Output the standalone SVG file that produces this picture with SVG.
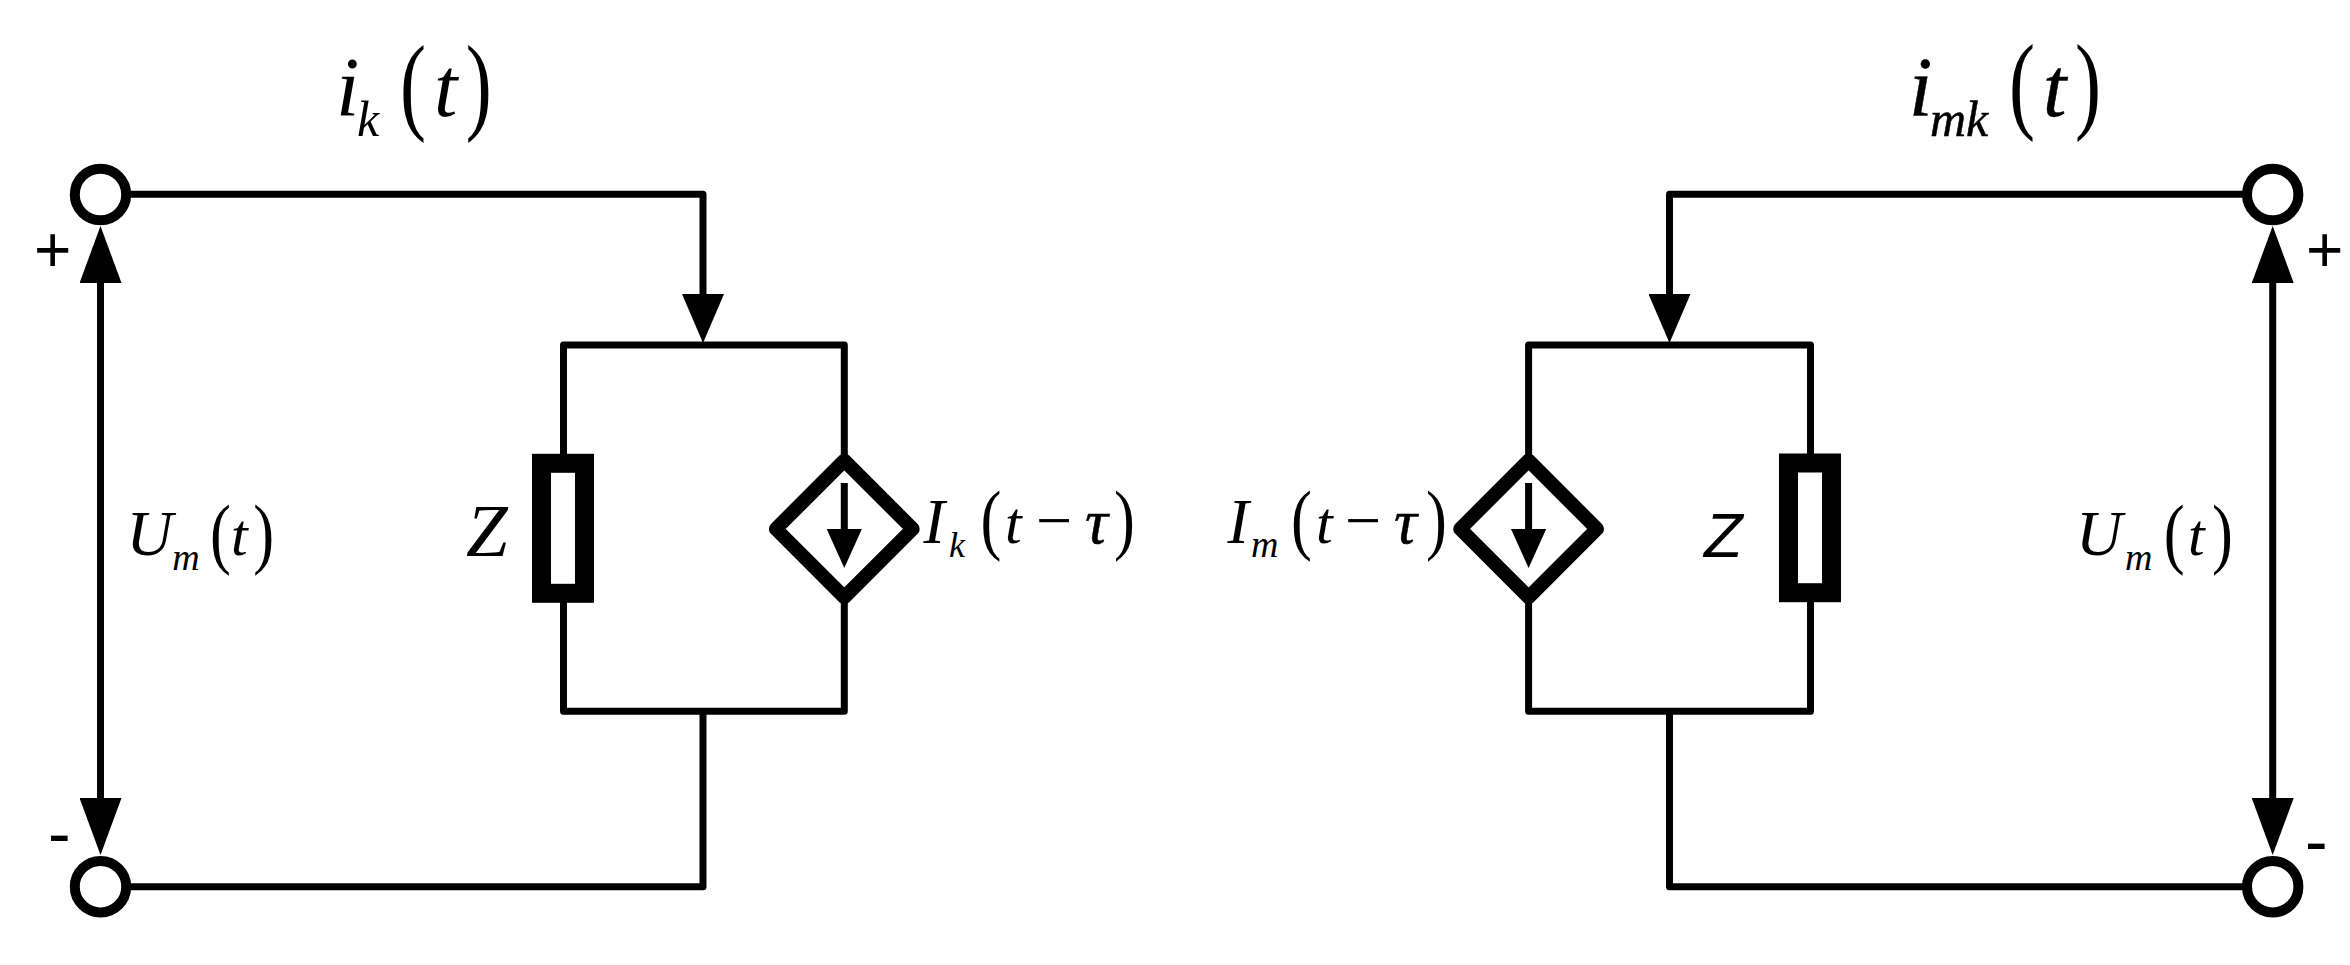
<svg xmlns="http://www.w3.org/2000/svg" width="2350" height="965" viewBox="0 0 2350 965">
<style>
.w{fill:none;stroke:#000;stroke-width:7;stroke-linejoin:round}
.term{fill:#fff;stroke:#000;stroke-width:10}
.res{fill:#fff;stroke:#000;stroke-width:19}
.dia{fill:#fff;stroke:#000;stroke-width:14;stroke-linejoin:round}
text{fill:#000;font-family:"Liberation Serif","Times New Roman",serif}
.it{font-style:italic}
.f84{font-size:84px}.f64{font-size:64px}.f60{font-size:60px}.f50{font-size:50px}.f38{font-size:38px}.f36{font-size:36px}
.f75{font-size:75px}
.pb{font-size:107.6px}.pm{font-size:77.4px}
.sans{font-family:"Liberation Sans",Arial,sans-serif}
.sign{font-size:64px}.dash{font-size:68px}
.heavy{stroke:#000;stroke-width:.5}
</style>
<defs>
<marker id="av" markerUnits="userSpaceOnUse" viewBox="0 -21 57 42" refX="0" refY="0" markerWidth="57" markerHeight="42" orient="auto-start-reverse"><path d="M0,-21L57,0L0,21z"/></marker>
<marker id="aw" markerUnits="userSpaceOnUse" viewBox="0 -21 49 42" refX="0" refY="0" markerWidth="49" markerHeight="42" orient="auto"><path d="M0,-21L49,0L0,21z"/></marker>
<marker id="as" markerUnits="userSpaceOnUse" viewBox="0 -18 39 36" refX="0" refY="0" markerWidth="39" markerHeight="36" orient="auto"><path d="M0,-17.6L39,0L0,17.6z"/></marker>
</defs>
<rect width="2350" height="965" fill="#fff"/>
<g id="connectors">
<path class="w" d="M130,194.3H703V294" marker-end="url(#aw)"/>
<path class="w" d="M563.5,345H844.3V711.3H563.5Z"/>
<path class="w" d="M703,711.3V886.7H130"/>
<path class="w" d="M2243,194.3H1669.5V294" marker-end="url(#aw)"/>
<path class="w" d="M1528.6,345H1810.5V711.3H1528.6Z"/>
<path class="w" d="M1669.5,711.3V886.7H2243"/>
<path class="w" d="M100.5,283V798" marker-start="url(#av)" marker-end="url(#av)"/>
<path class="w" d="M2272.7,283V798" marker-start="url(#av)" marker-end="url(#av)"/>
</g>
<g id="terminal-top-left"><circle class="term" cx="100.5" cy="194.5" r="25.7"/><text class="sans sign" x="34" y="272">+</text></g>
<g id="terminal-bottom-left"><circle class="term" cx="100.5" cy="886.7" r="25.7"/><text class="sans dash" x="48" y="856.5">-</text></g>
<g id="terminal-top-right"><circle class="term" cx="2272.7" cy="194.5" r="25.7"/><text class="sans sign" x="2306" y="272">+</text></g>
<g id="terminal-bottom-right"><circle class="term" cx="2272.7" cy="886.7" r="25.7"/><text class="sans dash" x="2305" y="865">-</text></g>
<g id="impedance-left"><rect class="res" x="541.5" y="463.3" width="43" height="130"/><text class="it f75" x="466" y="556">Z</text></g>
<g id="impedance-right"><rect class="res" x="1788.5" y="463" width="43" height="129.7"/><text class="sans it" style="font-size:63px" x="1704" y="556.5">Z</text></g>
<g id="source-left"><path class="dia" d="M844.3,460.5L912.7,528.9L844.3,597.3L775.9,528.9Z"/><path class="w" d="M844.3,483V529" marker-end="url(#as)"/>
<text class="it f64" x="923.5" y="543">I</text><text class="it f36" x="949" y="557">k</text>
<text class="pm" transform="translate(980.6,545.3) scale(.81,1)">(</text><text class="it f60" x="1005" y="543">t</text><text class="f64" x="1036" y="542">−</text><text class="it f64 heavy" x="1085" y="543">τ</text><text class="pm" transform="translate(1114,545.3) scale(.81,1)">)</text></g>
<g id="source-right"><path class="dia" d="M1528.6,460.5L1597,528.9L1528.6,597.3L1460.2,528.9Z"/><path class="w" d="M1528.6,483V529" marker-end="url(#as)"/>
<text class="it f64" x="1227.5" y="543">I</text><text class="it f38" x="1251" y="557">m</text>
<text class="pm" transform="translate(1291,545.3) scale(.81,1)">(</text><text class="it f60" x="1316" y="543">t</text><text class="f64" x="1345" y="542">−</text><text class="it f64 heavy" x="1394" y="543">τ</text><text class="pm" transform="translate(1426,545.3) scale(.81,1)">)</text></g>
<g id="label-ik"><text class="it f84" x="336" y="116">i</text><text class="it f50" x="357" y="136">k</text><text class="pb" transform="translate(400,119.8) scale(.726,1)">(</text><text class="it f84" x="434" y="116">t</text><text class="pb" transform="translate(465.75,119.8) scale(.726,1)">)</text></g>
<g id="label-imk"><text class="it f84 heavy" x="1909" y="116">i</text><text class="it f50 heavy" x="1930" y="136">mk</text><text class="pb" transform="translate(2009,118.8) scale(.726,1)">(</text><text class="it f84 heavy" x="2043" y="116">t</text><text class="pb" transform="translate(2075,118.8) scale(.726,1)">)</text></g>
<g id="label-um-left"><text class="it f64" x="126.5" y="555">U</text><text class="it f38" x="172.2" y="570">m</text><text class="pm" transform="translate(210,559) scale(.81,1)">(</text><text class="it f60" x="231" y="555">t</text><text class="pm" transform="translate(253.2,559) scale(.81,1)">)</text></g>
<g id="label-um-right"><text class="it f64" x="2076" y="555">U</text><text class="it f38" x="2125" y="570">m</text><text class="pm" transform="translate(2163.7,559) scale(.81,1)">(</text><text class="it f60" x="2188" y="555">t</text><text class="pm" transform="translate(2212,559) scale(.81,1)">)</text></g>
</svg>
